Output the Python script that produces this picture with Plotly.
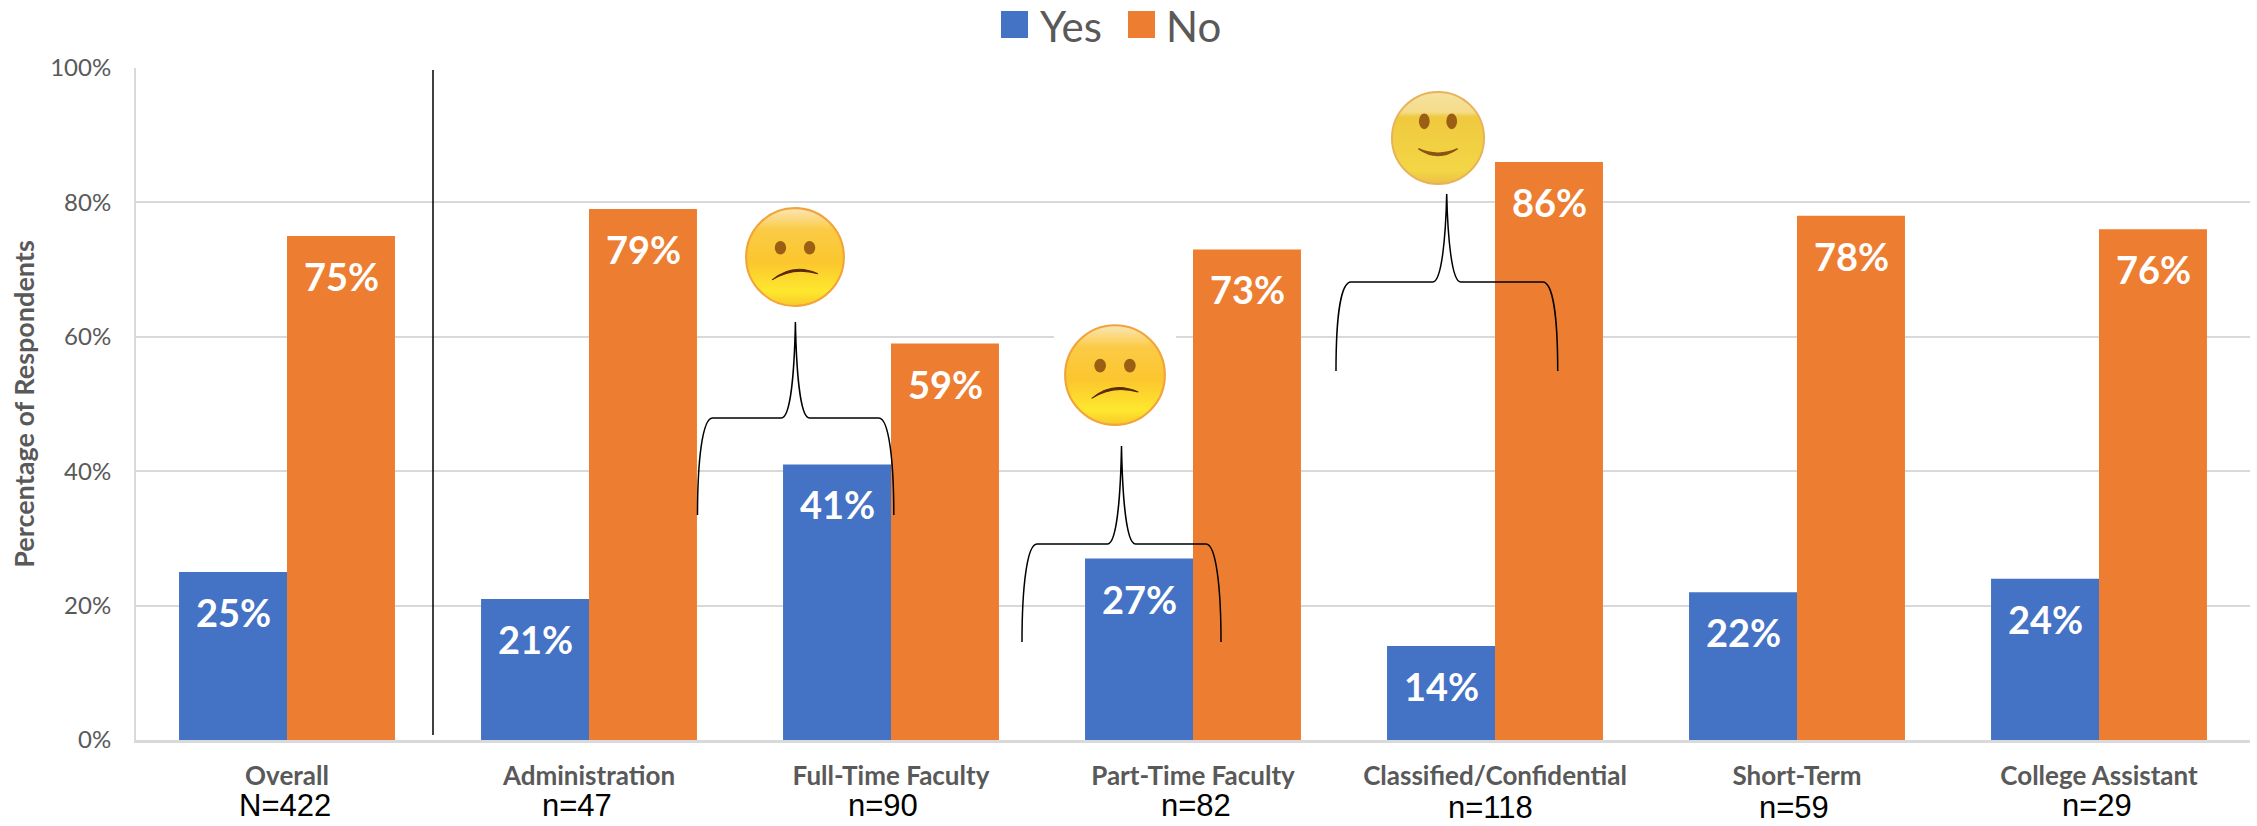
import base64
import plotly.graph_objects as go

W, H = 2257, 826
L, R, T, B = 136, 7, 68, 86

categories = ["Overall", "Administration", "Full-Time Faculty", "Part-Time Faculty",
              "Classified/Confidential", "Short-Term", "College Assistant"]
yes_values = [25, 21, 41, 27, 14, 22, 24]
no_values = [75, 79, 59, 73, 86, 78, 76]
sample_labels = ["N=422", "n=47", "n=90", "n=82", "n=118", "n=59", "n=29"]
y_ticks = [0, 20, 40, 60, 80, 100]
y_tick_labels = ["0%", "20%", "40%", "60%", "80%", "100%"]

# layout of the hand-placed overlays, in page pixels
sample_x = [285, 577, 883, 1196, 1490, 1794, 2097]
sample_y = [805, 805, 805, 805, 807, 807, 805]
BLUE, ORANGE = "#4472C4", "#ED7D31"
GREY = "#595959"


def fx(p):
    return (p - L) / (W - L - R)


def fy(p):
    return 1 - (p - T) / (H - T - B)


def brace(x0, x1, xt, ytop, ybar, ybot):
    pts = [
        ("M", [(x0, ybot)]),
        ("C", [(x0, ybot - 55), (x0 + 5, ybar), (x0 + 15, ybar)]),
        ("L", [(xt - 14, ybar)]),
        ("C", [(xt - 5, ybar), (xt - 1, ybar - 45), (xt, ytop)]),
        ("C", [(xt + 1, ybar - 45), (xt + 5, ybar), (xt + 14, ybar)]),
        ("L", [(x1 - 15, ybar)]),
        ("C", [(x1 - 5, ybar), (x1, ybot - 55), (x1, ybot)]),
    ]
    return " ".join(c + " " + " ".join(f"{fx(a):.5f},{fy(b):.5f}" for a, b in ps) for c, ps in pts)


def face(happy=False, pale=False, pad=0):
    stops = ('<stop offset="0" stop-color="#F6E2A0"/><stop offset="0.22" stop-color="#F5DC8A"/>'
             '<stop offset="0.27" stop-color="#EFC93F"/><stop offset="0.85" stop-color="#F3D645"/>'
             '<stop offset="1" stop-color="#EDBF45"/>') if pale else (
            '<stop offset="0" stop-color="#FBE6B8"/><stop offset="0.22" stop-color="#FBCB45"/>'
            '<stop offset="0.55" stop-color="#FBC62E"/><stop offset="0.85" stop-color="#FEE82E"/>'
            '<stop offset="1" stop-color="#F8C92A"/>')
    rim = "#E6B35A" if pale else "#F2A33A"
    mouth = ('<path d="M30,62 Q50,76 70,62 Q50,71 30,62Z" fill="#8A5414" stroke="#8A5414" stroke-width="1.5"/>'
             if happy else
             '<path d="M28,73 Q48,56 72,67 Q48,60 28,73Z" fill="#5A2A05" stroke="#5A2A05" stroke-width="1"/>')
    eye_y, eye_r = (34, 8) if happy else (42, 6.5)
    svg = (
        f'<svg xmlns="http://www.w3.org/2000/svg" viewBox="{-pad} 0 {100 + 2 * pad} 100" preserveAspectRatio="none" '
        f'width="{2 * (100 + 2 * pad)}" height="200">'
        '<defs><linearGradient id="g" x1="0" y1="0" x2="0" y2="1">' + stops + '</linearGradient></defs>'
        + (f'<rect x="{-pad}" y="0" width="{100 + 2 * pad}" height="100" fill="#fff"/>' if pad else '')
        + f'<circle cx="50" cy="51" r="47" fill="url(#g)" stroke="{rim}" stroke-width="2"/>'
        f'<ellipse cx="36" cy="{eye_y}" rx="5.5" ry="{eye_r}" fill="#9A5E14"/>'
        f'<ellipse cx="64" cy="{eye_y}" rx="5.5" ry="{eye_r}" fill="#9A5E14"/>'
        + mouth + '</svg>')
    return "data:image/svg+xml;base64," + base64.b64encode(svg.encode()).decode()


fig = go.Figure()
fig.add_bar(name="Yes", x=categories, y=yes_values, marker_color=BLUE, marker_line_width=0, showlegend=False)
fig.add_bar(name="No", x=categories, y=no_values, marker_color=ORANGE, marker_line_width=0, showlegend=False)

annotations = []
for cat, y_val, n_val in zip(categories, yes_values, no_values):
    for val, shift in ((y_val, -54), (n_val, 54)):
        annotations.append(dict(x=cat, y=val, xref="x", yref="y", text=f"<b>{val}%</b>", showarrow=False,
                                xshift=shift, yshift=-40, yanchor="middle",
                                font=dict(family="Lato", size=38, color="white")))
for text, px, py in zip(sample_labels, sample_x, sample_y):
    annotations.append(dict(x=fx(px), y=fy(py), xref="paper", yref="paper", text=text, showarrow=False,
                            xanchor="center", yanchor="middle", borderpad=0,
                            font=dict(family="Liberation Sans", size=31, color="black")))
# legend
for text, px in (("Yes", 1041), ("No", 1167)):
    annotations.append(dict(x=fx(px), y=fy(26), xref="paper", yref="paper", text=text, showarrow=False,
                            xanchor="left", yanchor="middle", xshift=-2, borderpad=0,
                            font=dict(family="Lato", size=42, color=GREY)))

shapes = [
    dict(type="rect", xref="paper", yref="paper", x0=fx(1001), x1=fx(1028), y0=fy(38), y1=fy(11),
         fillcolor=BLUE, line_width=0),
    dict(type="rect", xref="paper", yref="paper", x0=fx(1128), x1=fx(1155), y0=fy(38), y1=fy(11),
         fillcolor=ORANGE, line_width=0),
    dict(type="line", xref="paper", yref="paper", x0=fx(433), x1=fx(433), y0=fy(70), y1=fy(735),
         line=dict(color="black", width=1.5)),
]
for b in ((697.5, 893.8, 795.4, 322, 418, 515),
          (1022, 1221, 1121.5, 446, 544, 642),
          (1336, 1557.7, 1446.7, 194, 282, 371)):
    shapes.append(dict(type="path", xref="paper", yref="paper", path=brace(*b),
                       line=dict(color="black", width=1.5), fillcolor="rgba(0,0,0,0)"))

images = []
for cx, cy, w, h, kw in ((795, 256, 104, 104, {}),
                         (1115, 374, 122, 106, dict(pad=7.5)),
                         (1438, 137, 98, 98, dict(happy=True, pale=True))):
    images.append(dict(source=face(**kw), xref="paper", yref="paper", x=fx(cx - w / 2), y=fy(cy - h / 2),
                       sizex=w / (W - L - R), sizey=h / (H - T - B), xanchor="left", yanchor="top",
                       sizing="stretch", layer="above"))

fig.update_layout(
    width=W, height=H, autosize=False,
    margin=dict(l=L, r=R, t=T, b=B, pad=0),
    paper_bgcolor="white", plot_bgcolor="white",
    barmode="group", bargap=0.285, bargroupgap=0,
    shapes=shapes, images=images, annotations=annotations, showlegend=False,
    font=dict(family="Lato", color=GREY),
)
fig.update_xaxes(type="category", showgrid=False, showline=True, linecolor="#D9D9D9", linewidth=2.5,
                 ticks="", ticklabelstandoff=11, tickangle=0, fixedrange=True,
                 tickfont=dict(family="Lato", size=26, color=GREY, weight="bold"))
fig.update_yaxes(range=[0, 100], tickmode="array", tickvals=y_ticks, ticktext=y_tick_labels,
                 showgrid=True, gridcolor="#D9D9D9", gridwidth=2, showline=True, linecolor="#D9D9D9",
                 linewidth=2, ticks="", ticklabelstandoff=18, zeroline=False, fixedrange=True,
                 tickfont=dict(family="Lato", size=24, color=GREY),
                 title=dict(text="<b>Percentage of Respondents</b>", standoff=8,
                            font=dict(family="Lato", size=27, color=GREY)))
fig.write_html("out.html", config=dict(displayModeBar=False),
               post_script="document.body.style.margin='0';document.documentElement.style.overflow='hidden';")
